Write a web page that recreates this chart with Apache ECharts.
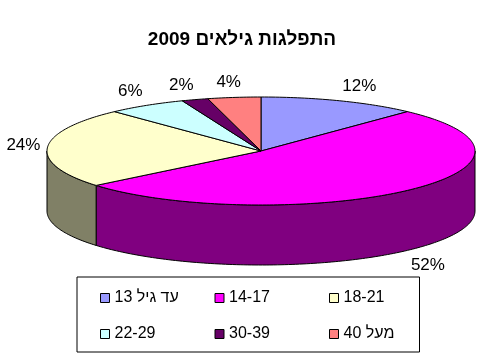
<!DOCTYPE html>
<html>
<head>
<meta charset="utf-8">
<script src="https://cdn.jsdelivr.net/npm/echarts@6/dist/echarts.min.js"></script>
<style>
  html, body { margin: 0; padding: 0; background: #fff; }
  #chart { width: 484px; height: 357px; outline: 1px solid #a0a0a0; outline-offset: -1px; }
</style>
</head>
<body>
<div id="chart"></div>
<script>
// ---- data ----
const categories = ['עד גיל 13', '14-17', '18-21', '22-29', '30-39', 'מעל 40'];
const shares = [12, 52, 24, 6, 2, 4];
const colors = ['#9999FF', '#FF00FF', '#FFFFCC', '#CCFFFF', '#660066', '#FF8080'];
const sideColors = ['#4d4d80', '#800080', '#808066', '#668080', '#330033', '#804040'];
const titleText = 'התפלגות גילאים 2009';

// ---- layout of the 3D pie ----
const G = { cx: 261, cy: 151, rx: 214, ry: 54, depth: 60 };
const FONT_FAMILY = 'Arial, "Liberation Sans", sans-serif';
const LABEL_FONT = '17px ' + FONT_FAMILY;
const measureCtx = document.createElement('canvas').getContext('2d');
measureCtx.font = LABEL_FONT;

const total = shares.reduce((s, v) => s + v, 0);

function pt(phi, dy) {
  return [G.cx + G.rx * Math.sin(phi), G.cy - G.ry * Math.cos(phi) + (dy || 0)];
}
function arc(s, e, dy) {
  const n = Math.max(2, Math.ceil((e - s) / (Math.PI / 180)));
  const pts = [];
  for (let k = 0; k <= n; k++) pts.push(pt(s + (e - s) * k / n, dy));
  return pts;
}

function renderItem(params, api) {
  const i = params.seriesIndex;
  let before = 0;
  for (let j = 0; j < i; j++) before += shares[j];
  const v = api.value(0);
  const a0 = before / total * 2 * Math.PI;
  const a1 = (before + v) / total * 2 * Math.PI;
  const children = [];
  // visible outer wall (front half: 90deg..270deg)
  const ws = Math.max(a0, Math.PI / 2), we = Math.min(a1, 3 * Math.PI / 2);
  if (we > ws) {
    const pts = arc(ws, we, 0).concat(arc(ws, we, G.depth).reverse());
    children.push({
      type: 'polygon', z2: 1,
      shape: { points: pts },
      style: { fill: sideColors[i], stroke: '#000', lineWidth: 1 }
    });
  }
  // top face
  children.push({
    type: 'polygon', z2: 10,
    shape: { points: [[G.cx, G.cy]].concat(arc(a0, a1, 0)) },
    style: { fill: api.visual('color'), stroke: '#000', lineWidth: 1 }
  });
  // label
  const mid = (a0 + a1) / 2;
  const sx = Math.sin(mid), cyy = -Math.cos(mid);
  const front = cyy > 0;
  const edge = pt(mid, front ? G.depth : 0);
  const text = v + '%';
  const hw = measureCtx.measureText(text).width / 2;
  const hh = 8;
  const clamp = (t) => Math.max(-1, Math.min(1, t));
  const gap = front ? 5 : 7;
  const x = edge[0] + sx * gap + hw * clamp(sx * (front ? 1.5 : 3));
  const y = edge[1] + cyy * (front ? 9 : 7) + hh * clamp(cyy * 3);
  children.push({
    type: 'text', z2: 20,
    style: { text: text, x: x, y: y, align: 'center', verticalAlign: 'middle', font: LABEL_FONT, fill: '#000' }
  });
  return { type: 'group', children: children };
}

// legend entries: last column gets a narrower text box so the frame closes where the reference does
const legendData = categories.map((name, i) => ({
  name: name,
  textStyle: { width: (i % 3 === 2) ? 70 : 81 }
}));

const chart = echarts.init(document.getElementById('chart'), null, { renderer: 'canvas', width: 484, height: 357 });
chart.setOption({
  backgroundColor: '#fff',
  animation: false,
  title: {
    text: titleText,
    left: 'center',
    top: 30,
    padding: 0,
    textStyle: { fontSize: 19, fontWeight: 'bold', fontFamily: FONT_FAMILY, color: '#000' }
  },
  legend: {
    data: legendData,
    orient: 'horizontal',
    left: 77,
    top: 277,
    width: 320,
    padding: [12.5, 6, 9.5, 23],
    itemGap: 19,
    itemWidth: 9,
    itemHeight: 9,
    icon: 'rect',
    borderColor: '#000',
    borderWidth: 1,
    borderRadius: 0,
    selectedMode: false,
    itemStyle: { borderColor: '#000', borderWidth: 1 },
    textStyle: { fontSize: 16, fontFamily: FONT_FAMILY, color: '#000', lineHeight: 17 }
  },
  series: categories.map((name, i) => ({
    type: 'custom',
    name: name,
    coordinateSystem: 'none',
    renderItem: renderItem,
    silent: true,
    itemStyle: { color: colors[i] },
    data: [[shares[i]]]
  }))
});
</script>
</body>
</html>
